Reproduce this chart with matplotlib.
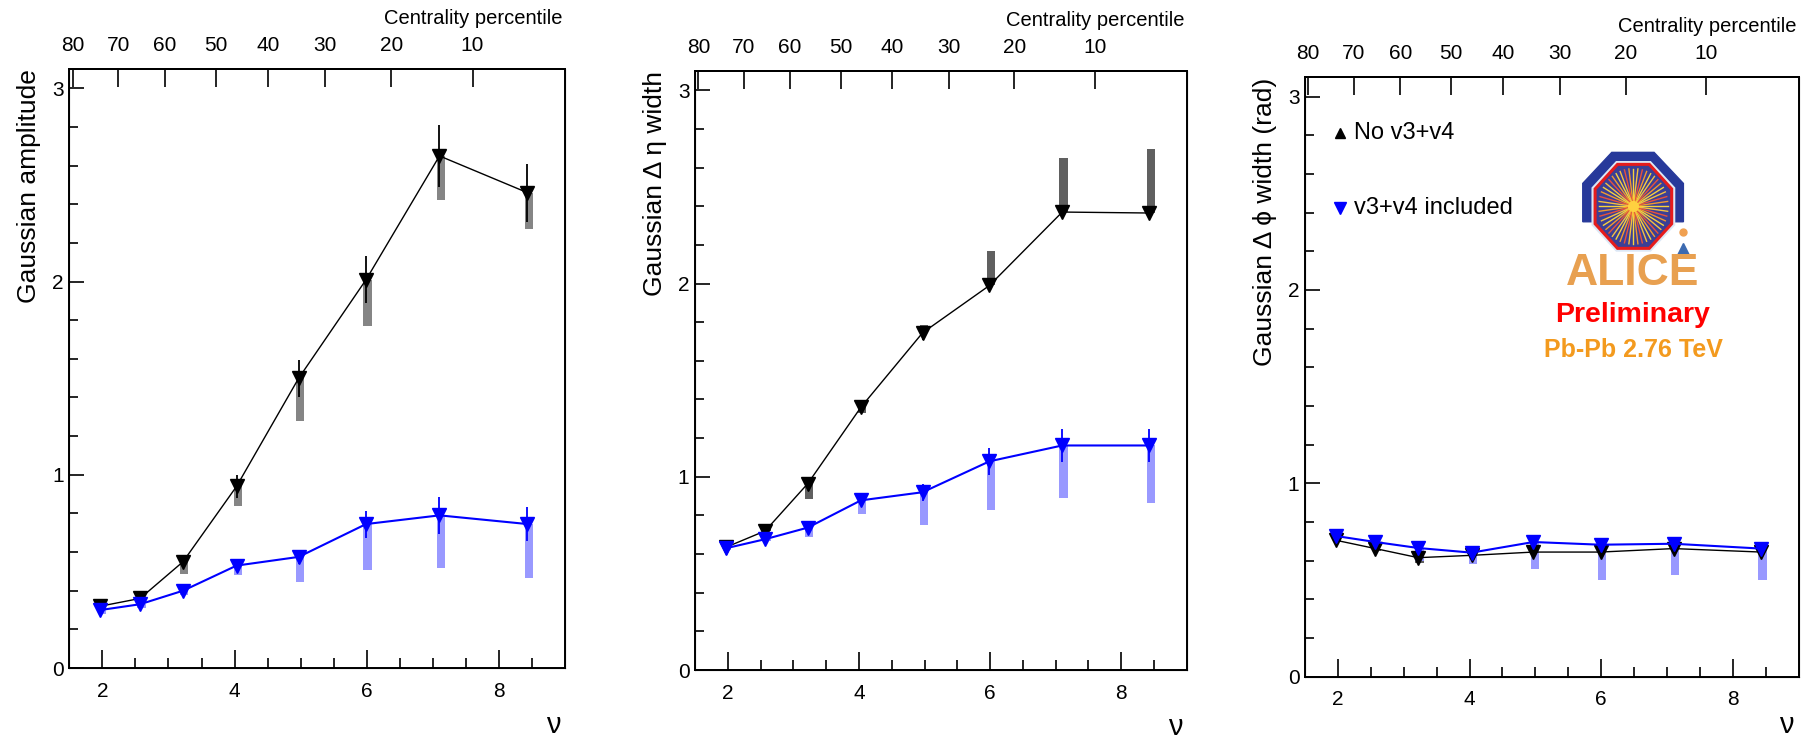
import numpy as np
import matplotlib
matplotlib.use("Agg")
import matplotlib.pyplot as plt
from matplotlib.patches import Polygon

plt.rcParams['font.family'] = ['Liberation Sans', 'DejaVu Sans']

# number of participants per bin (bottom axis)
nu = [1.97, 2.57, 3.22, 4.03, 4.97, 5.99, 7.10, 8.43]

# centrality tick positions (top axis)
cent_labels = ['80', '70', '60', '50', '40', '30', '20', '10']
cent_nu = [1.55, 2.24, 2.95, 3.72, 4.51, 5.37, 6.37, 7.60]

# Gaussian amplitude
amp_no = [0.32, 0.36, 0.55, 0.94, 1.50, 2.01, 2.65, 2.46]
amp_no_stat = [0.02, 0.02, 0.03, 0.06, 0.095, 0.12, 0.16, 0.15]
amp_no_syslo = [0.02, 0.02, 0.065, 0.10, 0.22, 0.24, 0.23, 0.19]
amp_no_syshi = [0, 0, 0, 0, 0, 0, 0, 0]
amp_v = [0.30, 0.33, 0.40, 0.53, 0.575, 0.745, 0.79, 0.745]
amp_v_stat = [0.015, 0.015, 0.02, 0.03, 0.035, 0.07, 0.095, 0.09]
amp_v_syslo = [0.02, 0.02, 0.02, 0.05, 0.13, 0.24, 0.27, 0.28]

# Gaussian delta-eta width
eta_no = [0.635, 0.72, 0.965, 1.36, 1.745, 1.99, 2.37, 2.365]
eta_no_stat = [0.01, 0.015, 0.03, 0.03, 0.035, 0.03, 0.03, 0.03]
eta_no_syslo = [0, 0, 0.08, 0.03, 0, 0, 0, 0]
eta_no_syshi = [0, 0.02, 0, 0, 0.04, 0.18, 0.28, 0.33]
eta_v = [0.63, 0.677, 0.737, 0.878, 0.92, 1.08, 1.162, 1.162]
eta_v_stat = [0.015, 0.02, 0.025, 0.03, 0.045, 0.07, 0.086, 0.086]
eta_v_syslo = [0.01, 0.01, 0.05, 0.07, 0.17, 0.25, 0.27, 0.30]

# Gaussian delta-phi width
phi_no = [0.705, 0.662, 0.615, 0.627, 0.644, 0.644, 0.662, 0.644]
phi_no_stat = [0.02, 0.02, 0.02, 0.015, 0.015, 0.015, 0.015, 0.015]
phi_no_syslo = [0.01, 0.01, 0.03, 0.01, 0.01, 0.01, 0.01, 0.01]
phi_no_syshi = [0, 0, 0, 0, 0, 0, 0, 0]
phi_v = [0.727, 0.696, 0.665, 0.641, 0.696, 0.682, 0.687, 0.662]
phi_v_stat = [0.015, 0.015, 0.015, 0.015, 0.02, 0.02, 0.02, 0.02]
phi_v_syslo = [0.01, 0.01, 0.065, 0.06, 0.14, 0.18, 0.16, 0.16]

panels = [
    ("Gaussian amplitude", amp_no, amp_no_stat, amp_no_syslo, amp_no_syshi, '#858585',
     amp_v, amp_v_stat, amp_v_syslo),
    ("Gaussian Δ η width", eta_no, eta_no_stat, eta_no_syslo, eta_no_syshi, '#606060',
     eta_v, eta_v_stat, eta_v_syslo),
    ("Gaussian Δ ϕ width (rad)", phi_no, phi_no_stat, phi_no_syslo, phi_no_syshi, '#606060',
     phi_v, phi_v_stat, phi_v_syslo),
]

boxes = [(0.0383, 0.0985, 0.2739, 0.8084),
         (0.3840, 0.0958, 0.2717, 0.8084),
         (0.7210, 0.0870, 0.2727, 0.8086)]
# where the nu label sits below each panel (axes fraction, baseline)
nu_label_y = [-0.1085, -0.1085, -0.0935]

fig = plt.figure(figsize=(18.10, 7.41), dpi=100)

for (ylab, yb, yb_st, yb_lo, yb_hi, gcol, yv, yv_st, yv_lo), box, nly in zip(panels, boxes, nu_label_y):
    ax = fig.add_axes(box)
    x = np.array(nu)
    # systematic boxes
    yb = np.array(yb)
    ax.bar(x + 0.02, np.array(yb_lo) + np.array(yb_hi), bottom=yb - np.array(yb_lo),
           width=0.125, color=gcol, zorder=1, linewidth=0)
    yv = np.array(yv)
    ax.bar(x + 0.02, np.array(yv_lo), bottom=yv - np.array(yv_lo),
           width=0.125, color='#9999ff', zorder=1, linewidth=0)
    # data
    ax.errorbar(x, yb, yerr=yb_st, color='black', marker='v', ms=10, lw=1.0,
                elinewidth=1.3, capsize=0, zorder=3)
    ax.errorbar(x, yv, yerr=yv_st, color='blue', marker='v', ms=10, lw=1.5,
                elinewidth=1.3, capsize=0, zorder=4)

    ax.set_xlim(1.5, 9.0)
    ax.set_ylim(0, 3.1)
    ax.set_xticks([2, 4, 6, 8])
    ax.set_xticks(np.arange(2.5, 9, 0.5), minor=True)
    ax.set_yticks([0, 1, 2, 3])
    ax.set_yticks([v for v in np.arange(0.2, 3.1, 0.2) if abs(v - round(v)) > 0.01], minor=True)
    ax.tick_params(axis='x', which='major', direction='in', length=13, width=1.2,
                   labelsize=15, pad=10, top=False)
    ax.tick_params(axis='x', which='minor', direction='in', length=7.5, width=1.2, top=False)
    ax.tick_params(axis='y', which='major', direction='in', length=11, width=1.2,
                   labelsize=15, pad=4, right=False)
    ax.tick_params(axis='y', which='minor', direction='in', length=6.5, width=1.2, right=False)
    for s in ax.spines.values():
        s.set_linewidth(1.4)

    ax.text(0.976, nly, 'ν', transform=ax.transAxes, ha='center', va='baseline', fontsize=21)
    ax.set_ylabel(ylab, fontsize=19, loc='top', labelpad=8)

    # centrality axis on top
    axt = ax.twiny()
    axt.set_xlim(ax.get_xlim())
    axt.set_xticks(cent_nu)
    axt.set_xticklabels(cent_labels)
    axt.tick_params(axis='x', direction='in', length=13, width=1.2, labelsize=15, pad=10)
    axt.spines['top'].set_linewidth(1.4)
    ax.text(0.995, 1.085, 'Centrality percentile', transform=ax.transAxes,
            ha='right', va='center', fontsize=14.5)

# legend and logo in the third panel
ax = fig.axes[-2]
tr = ax.transAxes
ax.plot([0.071], [0.9065], transform=tr, marker='^', color='black', ms=7, ls='none')
ax.text(0.100, 0.9065, 'No v3+v4', transform=tr, va='center', ha='left', fontsize=17)
ax.plot([0.071], [0.7814], transform=tr, marker='v', color='blue', ms=8, ls='none')
ax.text(0.100, 0.7814, 'v3+v4 included', transform=tr, va='center', ha='left', fontsize=17)

outer = [(0.5627, 0.759), (0.5627, 0.823), (0.6215, 0.8748), (0.7072, 0.8748),
         (0.7666, 0.823), (0.7666, 0.759)]
ax.add_patch(Polygon(outer, closed=True, color='#27399a', transform=tr, zorder=5))

cx, cy = 0.6653, 0.7847
def octo(hx, hy):
    th = np.deg2rad(22.5 + 45 * np.arange(8))
    return np.column_stack([cx + hx * np.cos(th) / np.cos(np.pi / 8),
                            cy + hy * np.sin(th) / np.cos(np.pi / 8)])

ax.add_patch(Polygon(octo(0.0835, 0.0745), closed=True, color='#dce8f6', transform=tr, zorder=6))
ax.add_patch(Polygon(octo(0.0776, 0.0701), closed=True, facecolor='#3b3f95',
                     edgecolor='#e51c1c', lw=2.2, transform=tr, zorder=7))
for k, a in enumerate(np.linspace(0, 2 * np.pi, 48, endpoint=False)):
    c = ['#f7d23c', '#f29a2e', '#e8523a', '#f5c040'][k % 4]
    ax.plot([cx, cx + 0.070 * np.cos(a)], [cy, cy + 0.063 * np.sin(a)], color=c, lw=1.0,
            transform=tr, zorder=8)
ax.plot([cx], [cy], marker='o', ms=7, color='#ffd040', transform=tr, zorder=9)
ax.plot([0.7666], [0.7417], marker='o', ms=5, color='#f0a050', transform=tr, zorder=9)
ax.plot([0.7666], [0.714], marker='^', ms=8, color='#3c6ab0', transform=tr, zorder=9)

ax.text(0.6636, 0.6729, 'ALICE', transform=tr, ha='center', va='center', fontsize=32,
        fontweight='bold', color='#e8a050', zorder=9)
ax.text(0.6642, 0.6033, 'Preliminary', transform=tr, ha='center', va='center', fontsize=20.5,
        fontweight='bold', color='#ff0000', zorder=9)
ax.text(0.6653, 0.5449, 'Pb-Pb 2.76 TeV', transform=tr, ha='center', va='center', fontsize=18,
        fontweight='bold', color='#f39a1e', zorder=9)

fig.savefig("out.png", dpi=100)
